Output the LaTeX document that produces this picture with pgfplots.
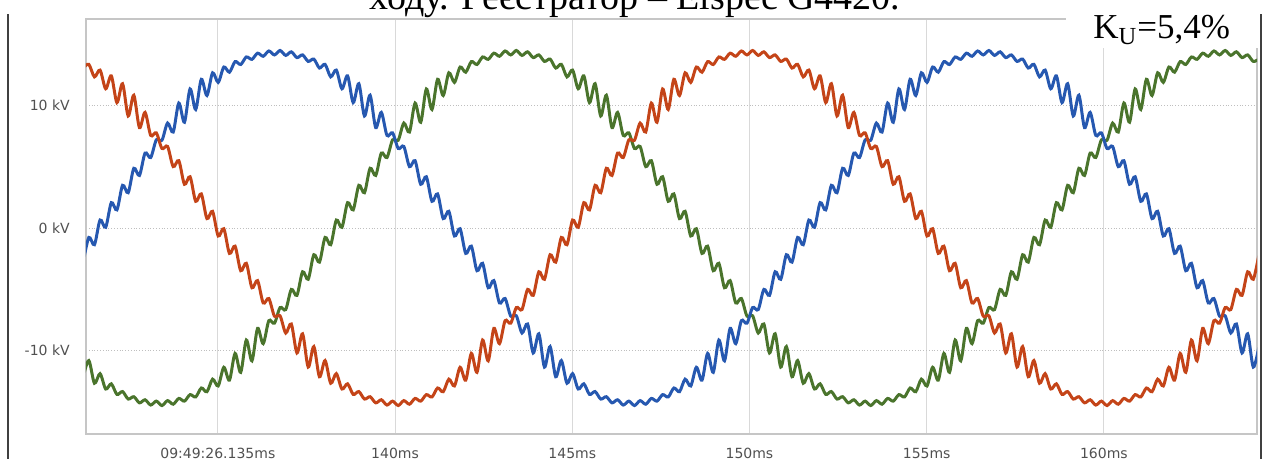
\documentclass[border=0pt]{standalone}
\usepackage{fontspec}
\setmainfont{Liberation Serif}
\newfontfamily\dejavu{DejaVu Sans}
\usepackage{pgfplots}
\pgfplotsset{compat=1.18}
\usepackage{pgfplotstable}

\definecolor{phA}{RGB}{196,68,24}
\definecolor{phB}{RGB}{74,116,44}
\definecolor{phC}{RGB}{38,88,176}
\definecolor{tickgray}{RGB}{80,80,80}

% sample index (1 step = 0.1587 ms), phase voltages in kV
\pgfplotstableread{
k r g b
0 13.05 -12.13 -2.78
1 13.35 -10.81 -0.77
2 12.33 -12.66 -1.36
3 12.88 -11.88 0.65
4 11.36 -13.13 0.06
5 12.41 -12.71 2.07
6 10.23 -13.57 1.48
7 11.77 -13.34 3.48
8 9.14 -13.95 2.88
9 10.83 -13.76 4.87
10 8.19 -14.26 4.29
11 9.43 -14.01 6.11
12 7.56 -14.44 5.75
13 7.76 -14.12 7.19
14 6.49 -14.48 7.16
15 6.65 -14.08 8.56
16 5.01 -14.37 7.83
17 5.49 -13.90 10.19
18 3.57 -14.12 8.63
19 4.18 -13.59 11.34
20 2.18 -13.78 9.67
21 2.78 -13.05 12.13
22 0.77 -13.35 10.81
23 1.36 -12.33 12.66
24 -0.65 -12.88 11.88
25 -0.06 -11.36 13.13
26 -2.07 -12.41 12.71
27 -1.48 -10.23 13.57
28 -3.48 -11.77 13.34
29 -2.88 -9.14 13.95
30 -4.87 -10.83 13.76
31 -4.29 -8.19 14.26
32 -6.11 -9.43 14.01
33 -5.75 -7.56 14.44
34 -7.19 -7.76 14.12
35 -7.16 -6.49 14.48
36 -8.56 -6.65 14.08
37 -7.83 -5.01 14.37
38 -10.19 -5.49 13.90
39 -8.63 -3.57 14.12
40 -11.34 -4.18 13.59
41 -9.67 -2.18 13.78
42 -12.13 -2.78 13.05
43 -10.81 -0.77 13.35
44 -12.66 -1.36 12.33
45 -11.88 0.65 12.88
46 -13.13 0.06 11.36
47 -12.71 2.07 12.41
48 -13.57 1.48 10.23
49 -13.34 3.48 11.77
50 -13.95 2.88 9.14
51 -13.76 4.87 10.83
52 -14.26 4.29 8.19
53 -14.01 6.11 9.43
54 -14.44 5.75 7.56
55 -14.12 7.19 7.76
56 -14.48 7.16 6.49
57 -14.08 8.56 6.65
58 -14.37 7.83 5.01
59 -13.90 10.19 5.49
60 -14.12 8.63 3.57
61 -13.59 11.34 4.18
62 -13.78 9.67 2.18
63 -13.05 12.13 2.78
64 -13.35 10.81 0.77
65 -12.33 12.66 1.36
66 -12.88 11.88 -0.65
67 -11.36 13.13 -0.06
68 -12.41 12.71 -2.07
69 -10.23 13.57 -1.48
70 -11.77 13.34 -3.48
71 -9.14 13.95 -2.88
72 -10.83 13.76 -4.87
73 -8.19 14.26 -4.29
74 -9.43 14.01 -6.11
75 -7.56 14.44 -5.75
76 -7.76 14.12 -7.19
77 -6.49 14.48 -7.16
78 -6.65 14.08 -8.56
79 -5.01 14.37 -7.83
80 -5.49 13.90 -10.19
81 -3.57 14.12 -8.63
82 -4.18 13.59 -11.34
83 -2.18 13.78 -9.67
84 -2.78 13.05 -12.13
85 -0.77 13.35 -10.81
86 -1.36 12.33 -12.66
87 0.65 12.88 -11.88
88 0.06 11.36 -13.13
89 2.07 12.41 -12.71
90 1.48 10.23 -13.57
91 3.48 11.77 -13.34
92 2.88 9.14 -13.95
93 4.87 10.83 -13.76
94 4.29 8.19 -14.26
95 6.11 9.43 -14.01
96 5.75 7.56 -14.44
97 7.19 7.76 -14.12
98 7.16 6.49 -14.48
99 8.56 6.65 -14.08
100 7.83 5.01 -14.37
101 10.19 5.49 -13.90
102 8.63 3.57 -14.12
103 11.34 4.18 -13.59
104 9.67 2.18 -13.78
105 12.13 2.78 -13.05
106 10.81 0.77 -13.35
107 12.66 1.36 -12.33
108 11.88 -0.65 -12.88
109 13.13 -0.06 -11.36
110 12.71 -2.07 -12.41
111 13.57 -1.48 -10.23
112 13.34 -3.48 -11.77
113 13.95 -2.88 -9.14
114 13.76 -4.87 -10.83
115 14.26 -4.29 -8.19
116 14.01 -6.11 -9.43
117 14.44 -5.75 -7.56
118 14.12 -7.19 -7.76
119 14.48 -7.16 -6.49
120 14.08 -8.56 -6.65
121 14.37 -7.83 -5.01
122 13.90 -10.19 -5.49
123 14.12 -8.63 -3.57
124 13.59 -11.34 -4.18
125 13.78 -9.67 -2.18
126 13.05 -12.13 -2.78
127 13.35 -10.81 -0.77
128 12.33 -12.66 -1.36
129 12.88 -11.88 0.65
130 11.36 -13.13 0.06
131 12.41 -12.71 2.07
132 10.23 -13.57 1.48
133 11.77 -13.34 3.48
134 9.14 -13.95 2.88
135 10.83 -13.76 4.87
136 8.19 -14.26 4.29
137 9.43 -14.01 6.11
138 7.56 -14.44 5.75
139 7.76 -14.12 7.19
140 6.49 -14.48 7.16
141 6.65 -14.08 8.56
142 5.01 -14.37 7.83
143 5.49 -13.90 10.19
144 3.57 -14.12 8.63
145 4.18 -13.59 11.34
146 2.18 -13.78 9.67
147 2.78 -13.05 12.13
148 0.77 -13.35 10.81
149 1.36 -12.33 12.66
150 -0.65 -12.88 11.88
151 -0.06 -11.36 13.13
152 -2.07 -12.41 12.71
153 -1.48 -10.23 13.57
154 -3.48 -11.77 13.34
155 -2.88 -9.14 13.95
156 -4.87 -10.83 13.76
157 -4.29 -8.19 14.26
158 -6.11 -9.43 14.01
159 -5.75 -7.56 14.44
160 -7.19 -7.76 14.12
161 -7.16 -6.49 14.48
162 -8.56 -6.65 14.08
163 -7.83 -5.01 14.37
164 -10.19 -5.49 13.90
165 -8.63 -3.57 14.12
166 -11.34 -4.18 13.59
167 -9.67 -2.18 13.78
168 -12.13 -2.78 13.05
169 -10.81 -0.77 13.35
170 -12.66 -1.36 12.33
171 -11.88 0.65 12.88
172 -13.13 0.06 11.36
173 -12.71 2.07 12.41
174 -13.57 1.48 10.23
175 -13.34 3.48 11.77
176 -13.95 2.88 9.14
177 -13.76 4.87 10.83
178 -14.26 4.29 8.19
179 -14.01 6.11 9.43
180 -14.44 5.75 7.56
181 -14.12 7.19 7.76
182 -14.48 7.16 6.49
183 -14.08 8.56 6.65
184 -14.37 7.83 5.01
185 -13.90 10.19 5.49
186 -14.12 8.63 3.57
187 -13.59 11.34 4.18
188 -13.78 9.67 2.18
189 -13.05 12.13 2.78
190 -13.35 10.81 0.77
191 -12.33 12.66 1.36
192 -12.88 11.88 -0.65
193 -11.36 13.13 -0.06
194 -12.41 12.71 -2.07
195 -10.23 13.57 -1.48
196 -11.77 13.34 -3.48
197 -9.14 13.95 -2.88
198 -10.83 13.76 -4.87
199 -8.19 14.26 -4.29
200 -9.43 14.01 -6.11
201 -7.56 14.44 -5.75
202 -7.76 14.12 -7.19
203 -6.49 14.48 -7.16
204 -6.65 14.08 -8.56
205 -5.01 14.37 -7.83
206 -5.49 13.90 -10.19
207 -3.57 14.12 -8.63
208 -4.18 13.59 -11.34
209 -2.18 13.78 -9.67
}\wave

\begin{document}
\begin{tikzpicture}

% cut-off caption line of the source document
\node[anchor=base, inner sep=0, font=\fontsize{19}{22}\selectfont]
  at (317.5pt,224.5pt) {ходу. Реєстратор – Elspec G4420.};

% frame lines of the screenshot
\draw[black!75, line width=1pt] (4pt,0) -- (4pt,222.5pt);
\draw[black!75, line width=1pt] (630.4pt,0) -- (630.4pt,222.5pt);

\begin{axis}[
    at={(43pt,12.5pt)}, anchor=south west,
    scale only axis,
    width=585.5pt, height=207.5pt,
    xmin=0.5, xmax=208.66,
    ymin=-16.8, ymax=17.05,
    axis line style={draw=gray!45, line width=0.75pt},
    xtick={23.94,55.44,86.94,118.44,149.94,181.44},
    xticklabels={09:49:26.135ms,140ms,145ms,150ms,155ms,160ms},
    ytick={-10,0,10},
    yticklabels={-10 kV,0 kV,10 kV},
    major tick length=0pt,
    xmajorgrids, ymajorgrids,
    x grid style={gray!30, line width=0.5pt},
    y grid style={gray!50, densely dotted, line width=0.5pt},
    tick label style={font=\dejavu\fontsize{7}{8}\selectfont, text=tickgray},
    xticklabel style={yshift=-3.4pt},
    yticklabel style={xshift=-4.6pt},
    clip=true,
]
\addplot[phB, line width=1.5pt, smooth] table[x=k, y=g] {\wave};
\addplot[phC, line width=1.5pt, smooth] table[x=k, y=b] {\wave};
\addplot[phA, line width=1.5pt, smooth] table[x=k, y=r] {\wave};
\end{axis}

% harmonic factor label on a white patch
\fill[white] (533pt,205.5pt) rectangle (629pt,232pt);
\node[anchor=base west, inner sep=0, font=\fontsize{17.5}{20}\selectfont]
  at (546.5pt,210pt) {K\textsubscript{U}=5,4\%};

\pgfresetboundingbox
\path[use as bounding box] (0,0) rectangle (635pt,229.5pt);
\end{tikzpicture}
\end{document}
